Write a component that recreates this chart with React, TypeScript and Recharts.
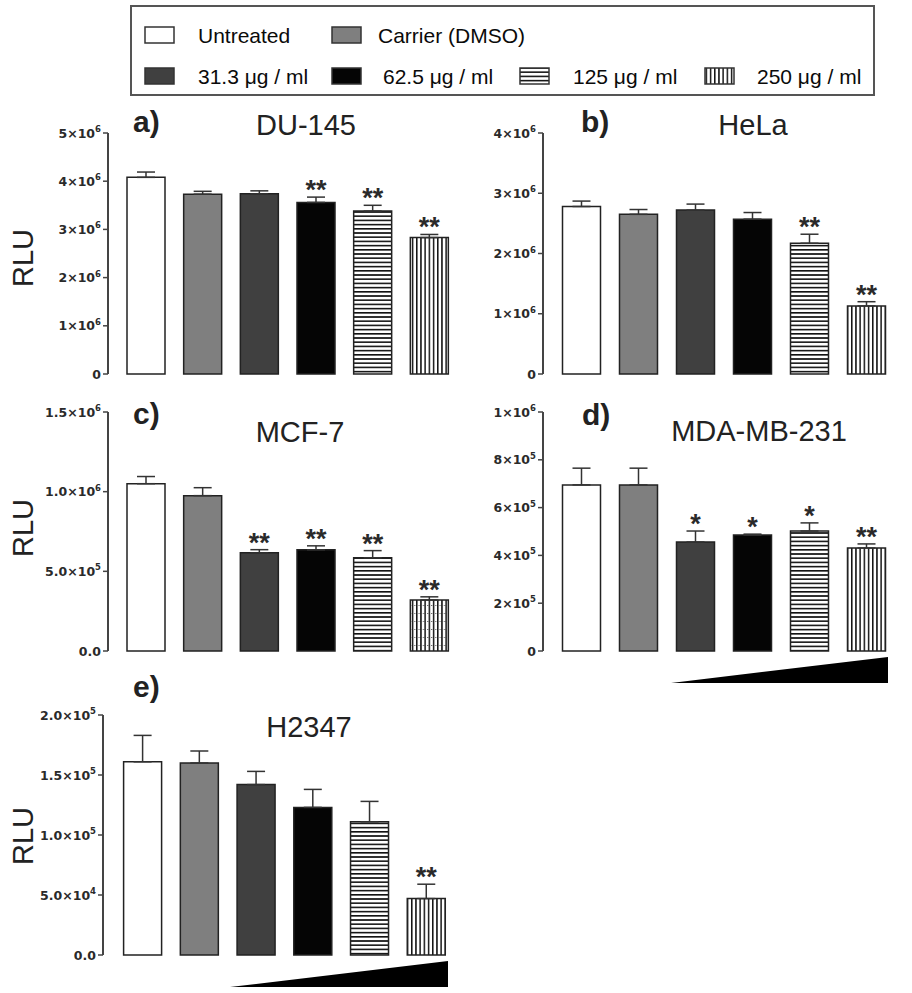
import React from 'react';
import { BarChart, Bar, XAxis, YAxis, ErrorBar, Cell, LabelList } from 'recharts';

const categories = ['Untreated', 'Carrier (DMSO)', '31.3 μg / ml', '62.5 μg / ml', '125 μg / ml', '250 μg / ml'];

const du145Values = [4.08e6, 3.73e6, 3.74e6, 3.56e6, 3.38e6, 2.83e6];
const du145Errors = [0.11e6, 0.06e6, 0.06e6, 0.11e6, 0.12e6, 0.065e6];
const du145Stars = ['', '', '', '**', '**', '**'];
const du145Ticks = [0, 1e6, 2e6, 3e6, 4e6, 5e6];
const du145TickLabels = ['0', '1×10^6', '2×10^6', '3×10^6', '4×10^6', '5×10^6'];

const helaValues = [2.78e6, 2.65e6, 2.72e6, 2.57e6, 2.17e6, 1.13e6];
const helaErrors = [0.09e6, 0.08e6, 0.1e6, 0.11e6, 0.15e6, 0.07e6];
const helaStars = ['', '', '', '', '**', '**'];
const helaTicks = [0, 1e6, 2e6, 3e6, 4e6];
const helaTickLabels = ['0', '1×10^6', '2×10^6', '3×10^6', '4×10^6'];

const mcf7Values = [1.05e6, 0.975e6, 0.616e6, 0.635e6, 0.585e6, 0.32e6];
const mcf7Errors = [0.045e6, 0.05e6, 0.02e6, 0.025e6, 0.045e6, 0.02e6];
const mcf7Stars = ['', '', '**', '**', '**', '**'];
const mcf7Ticks = [0, 0.5e6, 1e6, 1.5e6];
const mcf7TickLabels = ['0.0', '5.0×10^5', '1.0×10^6', '1.5×10^6'];

const mdaValues = [0.695e6, 0.695e6, 0.456e6, 0.485e6, 0.502e6, 0.431e6];
const mdaErrors = [0.07e6, 0.07e6, 0.046e6, 0.004e6, 0.034e6, 0.017e6];
const mdaStars = ['', '', '*', '*', '*', '**'];
const mdaTicks = [0, 2e5, 4e5, 6e5, 8e5, 1e6];
const mdaTickLabels = ['0', '2×10^5', '4×10^5', '6×10^5', '8×10^5', '1×10^6'];

const h2347Values = [1.61e5, 1.6e5, 1.42e5, 1.23e5, 1.11e5, 0.47e5];
const h2347Errors = [0.22e5, 0.1e5, 0.11e5, 0.15e5, 0.17e5, 0.12e5];
const h2347Stars = ['', '', '', '', '', '**'];
const h2347Ticks = [0, 5e4, 1e5, 1.5e5, 2e5];
const h2347TickLabels = ['0.0', '5.0×10^4', '1.0×10^5', '1.5×10^5', '2.0×10^5'];

const solidFills = ['#ffffff', '#7f7f7f', '#404040', '#050505'];
const FONT = '"Liberation Sans", Arial, sans-serif';
const AXIS = '#444';

type PanelDef = {
  id: string;
  values: number[];
  errors: number[];
  stars: string[];
  ticks: number[];
  tickLabels: string[];
  L: number; T: number; R: number; B: number;
  padL: number; padR: number;
  dots?: boolean;
};

const panels: PanelDef[] = [
  { id: 'a', values: du145Values, errors: du145Errors, stars: du145Stars, ticks: du145Ticks, tickLabels: du145TickLabels, L: 108, T: 133, R: 460, B: 374, padL: 10, padR: 2 },
  { id: 'b', values: helaValues, errors: helaErrors, stars: helaStars, ticks: helaTicks, tickLabels: helaTickLabels, L: 543, T: 133, R: 903, B: 374, padL: 9.5, padR: 8.5 },
  { id: 'c', values: mcf7Values, errors: mcf7Errors, stars: mcf7Stars, ticks: mcf7Ticks, tickLabels: mcf7TickLabels, L: 108, T: 412, R: 460, B: 651, padL: 10, padR: 2, dots: true },
  { id: 'd', values: mdaValues, errors: mdaErrors, stars: mdaStars, ticks: mdaTicks, tickLabels: mdaTickLabels, L: 543, T: 412, R: 903, B: 651, padL: 9.5, padR: 8.5 },
  { id: 'e', values: h2347Values, errors: h2347Errors, stars: h2347Stars, ticks: h2347Ticks, tickLabels: h2347TickLabels, L: 103, T: 715, R: 460, B: 955, padL: 11.6, padR: 5 },
];

const Patterns = ({ prefix, dots }: { prefix: string; dots?: boolean }) => (
  <defs>
    <pattern id={`${prefix}-hl`} patternUnits="userSpaceOnUse" width={8} height={4.2}>
      <rect x={0} y={0} width={8} height={4.2} fill="#fff" />
      <rect x={0} y={0} width={8} height={1.6} fill="#111" />
    </pattern>
    <pattern id={`${prefix}-vl`} patternUnits="userSpaceOnUse" width={4.2} height={8}>
      <rect x={0} y={0} width={4.2} height={8} fill="#fff" />
      <rect x={0} y={0} width={1.5} height={8} fill="#111" />
      {dots ? <rect x={2.6} y={3} width={1} height={1} fill="#555" /> : null}
    </pattern>
  </defs>
);

const fillFor = (prefix: string, i: number) =>
  i < 4 ? solidFills[i] : i === 4 ? `url(#${prefix}-hl)` : `url(#${prefix}-vl)`;

const makeTick = (p: PanelDef) => (props: any) => {
  const { x, y, payload } = props;
  const idx = p.ticks.indexOf(payload.value);
  const label = idx >= 0 ? p.tickLabels[idx] : String(payload.value);
  const [base, exp] = label.split('^');
  return (
    <text x={x} y={y} dy={4.5} textAnchor="end" fontFamily='"DejaVu Sans", sans-serif' fontWeight="bold" fontSize={12.5} fill="#2a2a2a">
      <tspan>{base}</tspan>
      {exp ? <tspan dy={-5.5} fontSize={8.5}>{exp}</tspan> : null}
    </text>
  );
};

const makeStar = (p: PanelDef) => (props: any) => {
  const { x, y, width, height, index } = props;
  const s = p.stars[index];
  if (!s) return null;
  const v = p.values[index];
  const e = p.errors[index];
  const h = Number(height);
  const ppu = h / v;
  const yTop = Number(y) + h - (v + e) * ppu;
  return (
    <text x={Number(x) + Number(width) / 2} y={yTop + 2} textAnchor="middle" fontFamily={FONT} fontWeight="bold" fontSize={27} fill="#2a2a2a">
      {s}
    </text>
  );
};

const Panel = ({ p }: { p: PanelDef }) => {
  const data = categories.map((name, i) => ({ name, value: p.values[i], err: [0, p.errors[i]] }));
  const mTop = 10, mBottom = 10, mRight = 4, mLeft = 10, yw = 60;
  const width = p.R - p.L + mLeft + yw + mRight;
  const height = p.B - p.T + mTop + mBottom;
  return (
    <div style={{ position: 'absolute', left: p.L - mLeft - yw, top: p.T - mTop, width, height }}>
      <BarChart width={width} height={height} data={data} margin={{ top: mTop, right: mRight, bottom: mBottom, left: mLeft }}>
        <Patterns prefix={p.id} dots={p.dots} />
        <XAxis dataKey="name" tick={false} tickLine={false} height={0} axisLine={{ stroke: AXIS, strokeWidth: 2 }} padding={{ left: p.padL, right: p.padR }} />
        <YAxis
          width={yw}
          domain={[0, p.ticks[p.ticks.length - 1]]}
          ticks={p.ticks}
          interval={0}
          tickSize={5}
          tickMargin={2}
          tick={makeTick(p)}
          axisLine={{ stroke: AXIS, strokeWidth: 2 }}
          tickLine={{ stroke: AXIS, strokeWidth: 1.5 }}
        />
        <Bar dataKey="value" barSize={38} stroke="#222" strokeWidth={1.5} isAnimationActive={false}>
          {data.map((_, i) => (
            <Cell key={i} fill={fillFor(p.id, i)} />
          ))}
          <ErrorBar dataKey="err" width={9} stroke="#333" strokeWidth={1.5} direction="y" />
          <LabelList dataKey="value" content={makeStar(p)} />
        </Bar>
      </BarChart>
    </div>
  );
};

const legendItems = [
  { label: categories[0], sx: 145, tx: 198, row: 0 },
  { label: categories[1], sx: 332, tx: 378, row: 0 },
  { label: categories[2], sx: 145, tx: 198, row: 1 },
  { label: categories[3], sx: 332, tx: 383, row: 1 },
  { label: categories[4], sx: 520, tx: 573, row: 1 },
  { label: categories[5], sx: 705, tx: 757, row: 1 },
];

const titles = [
  { letter: 'a)', lx: 133, ly: 132, name: 'DU-145', nx: 306, ny: 135 },
  { letter: 'b)', lx: 581, ly: 132, name: 'HeLa', nx: 753, ny: 135 },
  { letter: 'c)', lx: 133, ly: 424, name: 'MCF-7', nx: 300, ny: 442 },
  { letter: 'd)', lx: 582, ly: 425, name: 'MDA-MB-231', nx: 759, ny: 441 },
  { letter: 'e)', lx: 133, ly: 697, name: 'H2347', nx: 309, ny: 737 },
];

const rluLabels = [258, 528, 836];

export default function App() {
  return (
    <div style={{ position: 'absolute', left: 0, top: 0, width: 912, height: 993, background: '#fff', overflow: 'hidden' }}>
      {panels.map((p) => (
        <Panel key={p.id} p={p} />
      ))}
      <svg width={912} height={993} style={{ position: 'absolute', left: 0, top: 0, pointerEvents: 'none' }}>
        <Patterns prefix="lg" />
        <rect x={131} y={6} width={743} height={89} fill="none" stroke="#555" strokeWidth={2} />
        {legendItems.map((it, i) => {
          const sy = it.row === 0 ? 27 : 68;
          const ty = it.row === 0 ? 43 : 84;
          return (
            <g key={i}>
              <rect x={it.sx} y={sy} width={29} height={16} fill={fillFor('lg', i)} stroke="#333" strokeWidth={1.5} />
              <text x={it.tx} y={ty} fontFamily={FONT} fontSize={21} fill="#0a0a0a">{it.label}</text>
            </g>
          );
        })}
        {titles.map((t, i) => (
          <g key={i}>
            <text x={t.lx} y={t.ly} fontFamily={FONT} fontWeight="bold" fontSize={30} fill="#222">{t.letter}</text>
            <text x={t.nx} y={t.ny} textAnchor="middle" fontFamily={FONT} fontSize={29} fill="#222">{t.name}</text>
          </g>
        ))}
        {rluLabels.map((cy, i) => (
          <text key={i} x={0} y={0} transform={`translate(33 ${cy}) rotate(-90)`} textAnchor="middle" fontFamily={FONT} fontSize={29} fill="#222">RLU</text>
        ))}
        <polygon points="671,683 888,657 888,683" fill="#000" />
        <polygon points="230,987 448,961 448,987" fill="#000" />
      </svg>
    </div>
  );
}
